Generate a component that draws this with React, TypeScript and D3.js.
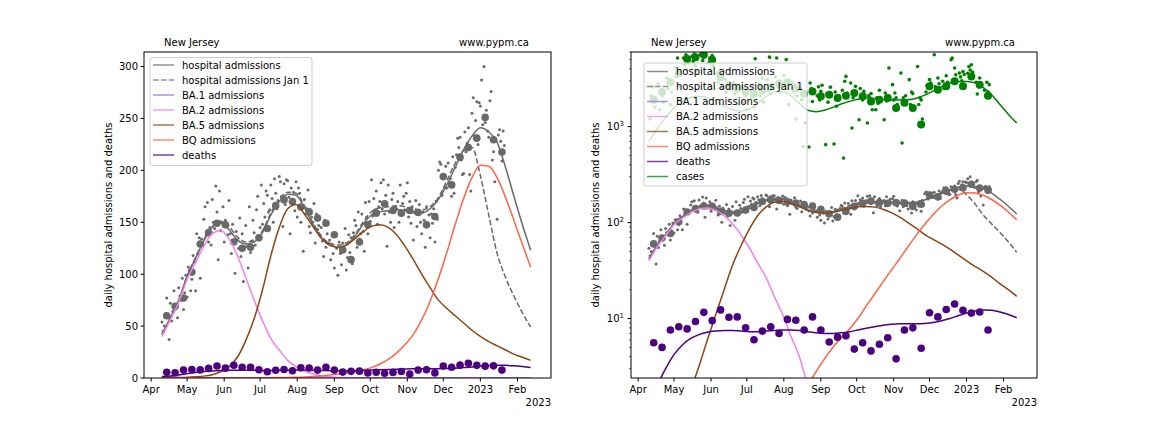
import * as d3 from "d3";

// model curves: weekly knots starting 2022-04-10
const MODEL_START = "2022-04-10";
const hospModel = [42, 58, 75, 98, 115, 132, 145, 149, 143, 133, 129, 131, 140, 157, 170, 177, 176, 164, 148, 135, 128, 126, 128, 136, 148, 157, 160, 161, 162, 161, 159, 159, 163, 172, 186, 203, 220, 233, 241, 237, 227, 203, 175, 148, 123];
const hospJan1 = [42, 58, 75, 98, 116, 133, 146, 151, 146, 136, 131, 133, 142, 159, 172, 179, 178, 166, 150, 137, 130, 128, 130, 138, 150, 160, 164, 165, 166, 165, 163, 162, 165, 174, 190, 207, 219, 222, 195, 157, 120, 97, 79, 63, 49];
const ba1Model = [1.5, 1.1, 0.8, 0.55, 0.4, 0.28, 0.2, 0.14, 0.1, 0.07, 0.05, 0.035, 0.025, 0.018, 0.013, 0.01, 0.007, 0.005, 0.004, 0.003, 0.002, 0.0015, 0.001, 0.001, 0.001, 0.001, 0.001, 0.001, 0.001, 0.001, 0.001, 0.001, 0.001, 0.001, 0.001, 0.001, 0.001, 0.001, 0.001, 0.001, 0.001, 0.001, 0.001, 0.001, 0.001];
const ba2Model = [40, 56, 73, 95, 111, 127, 139, 142, 134, 118, 97, 75, 55, 38, 27, 17, 11, 6.5, 4.0, 2.0, 1.1, 0.6, 0.35, 0.2, 0.12, 0.07, 0.04, 0.025, 0.015, 0.01, 0.006, 0.004, 0.003, 0.002, 0.0015, 0.001, 0.001, 0.001, 0.001, 0.001, 0.001, 0.001, 0.001, 0.001, 0.001];
const ba5Model = [0.08, 0.15, 0.3, 0.6, 1.1, 1.8, 3.2, 6, 11, 20, 36, 57, 85, 118, 145, 163, 167, 158, 146, 135, 128, 126, 128, 134, 141, 146, 147.5, 145, 138, 127, 114, 100, 87, 75, 67, 60, 53, 46, 40, 35, 31, 27, 23, 20, 17];
const bqModel = [0.02, 0.025, 0.03, 0.04, 0.05, 0.06, 0.08, 0.1, 0.12, 0.15, 0.18, 0.22, 0.27, 0.33, 0.4, 0.5, 0.7, 1.0, 1.4, 2.0, 2.8, 3.8, 5, 6.3, 7.8, 10, 13.5, 18, 24, 32, 42, 56, 74, 96, 121, 148, 173, 193, 205, 204, 193, 174, 152, 129, 107];
const deathsModel = [1.2, 2.0, 3.0, 4.2, 5.3, 6.2, 6.8, 7.2, 7.4, 7.5, 7.5, 7.4, 7.3, 7.3, 7.4, 7.5, 7.6, 7.6, 7.5, 7.3, 7.1, 7.0, 7.0, 7.1, 7.3, 7.6, 7.9, 8.2, 8.5, 8.7, 8.8, 8.8, 8.8, 8.9, 9.1, 9.5, 10.0, 10.7, 11.4, 12.0, 12.3, 12.2, 11.7, 11.0, 10.2];
const casesModel = [700, 950, 1250, 1570, 1850, 2030, 2080, 2000, 1830, 1640, 1500, 1450, 1530, 1750, 2050, 2300, 2330, 2100, 1750, 1480, 1430, 1480, 1590, 1720, 1835, 1930, 1990, 1970, 1910, 1890, 1900, 1910, 1980, 2130, 2350, 2600, 2850, 2960, 2950, 2860, 2550, 2150, 1700, 1350, 1090];

// daily hospital admissions from 2022-04-10, one row per week
const HOSP_START = "2022-04-10";
const hospDaily = [
  54, 45, 50, 62, 77, 58, 37,
  72, 55, 64, 84, 66, 70, 58,
  87, 79, 75, 96, 66, 82, 99,
  78, 107, 104, 84, 95, 118, 112,
  84, 139, 120, 135, 96, 134, 128,
  153, 165, 138, 169, 131, 145, 128,
  172, 150, 144, 185, 160, 114, 180,
  142, 150, 165, 131, 152, 147, 138,
  171, 139, 120, 148, 133, 101, 141,
  133, 125, 154, 117, 139, 93, 126,
  147, 127, 106, 165, 121, 132, 152,
  140, 128, 162, 175, 136, 145, 186,
  148, 168, 155, 180, 176, 160, 162,
  186, 173, 150, 192, 178, 163, 171,
  194, 189, 175, 146, 187, 167, 191,
  190, 174, 139, 183, 168, 179, 161,
  189, 155, 183, 178, 150, 166, 122,
  172, 158, 163, 181, 146, 140, 155,
  150, 168, 130, 158, 143, 147, 137,
  145, 132, 117, 152, 126, 139, 130,
  133, 114, 128, 120, 106, 137, 125,
  99, 131, 120, 109, 130, 123, 144,
  104, 116, 138, 121, 135, 110, 140,
  152, 147, 126, 160, 134, 139, 158,
  141, 122, 169, 155, 139, 170, 151,
  191, 156, 173, 162, 180, 148, 165,
  170, 188, 163, 191, 158, 176, 127,
  186, 160, 150, 172, 178, 145, 165,
  163, 170, 150, 186, 158, 168, 175,
  162, 178, 188, 155, 170, 149, 165,
  133, 160, 171, 146, 158, 167, 150,
  139, 160, 152, 126, 165, 148, 157,
  135, 158, 149, 163, 131, 170, 153,
  200, 208, 206, 176, 195, 183, 204,
  183, 207, 188, 192, 175, 213, 178,
  203, 215, 231, 222, 232, 210, 196,
  197, 237, 218, 226, 241, 196, 180,
  255, 270, 233, 248, 266, 225, 265,
  262, 287, 244, 300, 246, 258, 238,
  232, 267, 276, 210, 218, 189, 229,
  153, 234, 239, 228, 209, 238, 224,
];

// weekly averages, from 2022-04-14
const WEEKLY_START = "2022-04-14";
const hospWeekly = [60, 69, 77, 102, 129, 140, 149, 147.5, 131, 125, 126, 135, 144, 166, 171.6, 170, 164.6, 160, 154, 149, 138, 123.4, 114, 131, 147.5, 158.8, 167.8, 161.4, 158.8, 161.4, 159.4, 147.5, 155.5, 194, 186, 212.7, 222, 231, 251, 229.5, 217.6];
const deathsWeekly = [5.6, 5.0, 7.6, 8.2, 7.8, 9.3, 11.6, 9.5, 12.3, 10.3, 10.4, 8.0, 6.0, 7.4, 8.2, 7.0, 9.8, 9.6, 7.6, 10.4, 7.6, 5.7, 6.4, 6.6, 4.8, 5.6, 4.6, 5.4, 6.3, 3.8, 7.6, 8.0, 4.9, 11.5, 10.4, 12.4, 14.2, 12.2, 11.4, 11.7, 7.6];
const casesWeekly = [1910, 2300, 2900, 3600, 5070, 5300, 5620, 4990, 3300, 2700, 2500, 2300, 2200, 2400, 2600, 2800, 2900, 2500, 2200, 2330, 2070, 2150, 1990, 2100, 2240, 2070, 1830, 1910, 1990, 1565, 1770, 1565, 1050, 2630, 2430, 2630, 2970, 2630, 3340, 2740, 2100];

// daily cases, Mon..Fri, weeks from 2022-04-11
const CASES_START = "2022-04-11";
const casesDaily = [
  [1200, 2100, 2600, 1900, 1600],
  [2800, 1500, 2400, 2100, 1800],
  [3200, 2500, 2900, 1700, 2300],
  [4100, 3300, 5200, 3600, 2600],
  [5200, 4400, 5600, 3900, 4600],
  [5400, 4800, 5700, 4300, 3800],
  [5600, 5800, 4900, 5300, 5500],
  [4600, 5200, 3900, 5500, 4300],
  [3600, 2900, 3800, 3100, 2500],
  [3100, 2300, 2800, 1900, 2600],
  [2900, 2200, 2700, 1700, 2400],
  [2600, 1800, 2500, 2100, 1500],
  [2400, 2000, 2700, 1600, 5100],
  [2800, 2100, 2600, 3200, 1800],
  [3100, 2400, 5300, 2200, 2700],
  [3300, 5200, 2600, 3000, 2300],
  [3400, 2700, 5000, 2500, 1700],
  [2900, 2300, 2700, 1200, 2100],
  [2500, 1900, 620, 2300, 1100],
  [614, 2850, 2500, 1830, 2300],
  [2100, 2600, 1900, 2330, 2700],
  [650, 2200, 1800, 2150, 2580],
  [660, 2300, 1630, 2000, 2100],
  [2400, 470, 2970, 3340, 2240],
  [2850, 970, 2000, 2300, 2630],
  [1180, 2500, 2100, 1900, 2330],
  [1090, 2100, 2000, 2210, 1500],
  [1500, 2000, 1750, 2400, 1900],
  [1180, 2240, 1850, 2100, 4080],
  [2740, 1900, 2240, 2000, 1700],
  [3620, 676, 2000, 1800, 2100],
  [3090, 1700, 2300, 2210, 1600],
  [4240, 1700, 2000, 1900, 1200],
  [2300, 2700, 2500, 3090, 2850],
  [5620, 2600, 2400, 3210, 2800],
  [2970, 2500, 2700, 3390, 2900],
  [4990, 5190, 3100, 4080, 3480],
  [3620, 3300, 3000, 3760, 3500],
  [3600, 4240, 3900, 4420, 3700],
  [2900, 2190, 2600, 3210, 2800],
  [2400, 2100, 2900, 2300, 2740],
];

const monthTicks = ["2022-04-01", "2022-05-01", "2022-06-01", "2022-07-01", "2022-08-01", "2022-09-01", "2022-10-01", "2022-11-01", "2022-12-01", "2023-01-01", "2023-02-01"];

const C = {
  hosp: "#696969",
  ba1: "#9370DB",
  ba2: "#EE82EE",
  ba5: "#8B4513",
  bq: "#FF6347",
  deaths: "#4B0082",
  cases: "#008000",
};

const FONT = "DejaVu Sans, sans-serif";
const TOP = 52;
const BOTTOM = 378;

const utc = (s: string) => new Date(s + "T00:00:00Z");
const dayAfter = (s: string, n: number) => d3.utcDay.offset(utc(s), n);

type Pt = [Date, number];
const series = (start: string, step: number, vals: number[]): Pt[] =>
  vals.map((v, i) => [dayAfter(start, i * step), v]);

const modelPts = {
  hosp: series(MODEL_START, 7, hospModel),
  jan1: series(MODEL_START, 7, hospJan1),
  ba1: series(MODEL_START, 7, ba1Model),
  ba2: series(MODEL_START, 7, ba2Model),
  ba5: series(MODEL_START, 7, ba5Model),
  bq: series(MODEL_START, 7, bqModel),
  deaths: series(MODEL_START, 7, deathsModel),
  cases: series(MODEL_START, 7, casesModel),
};
const hospDailyPts = series(HOSP_START, 1, hospDaily);
const hospWeeklyPts = series(WEEKLY_START, 7, hospWeekly);
const deathsWeeklyPts = series(WEEKLY_START, 7, deathsWeekly);
const casesWeeklyPts = series(WEEKLY_START, 7, casesWeekly);
const casesDailyPts: Pt[] = casesDaily.flatMap((row, w) =>
  row.map((v, j) => [dayAfter(CASES_START, w * 7 + j), v] as Pt)
);

const xDomain = [utc("2022-03-26"), utc("2023-03-01")];

type PanelProps = { id: string; left: number; right: number; log: boolean };

function Panel({ id, left, right, log }: PanelProps) {
  const x = d3.scaleUtc().domain(xDomain).range([left, right]);
  const y = log
    ? d3.scaleLog().domain([2.4, 6000]).range([BOTTOM, TOP])
    : d3.scaleLinear().domain([0, 314]).range([BOTTOM, TOP]);
  const line = d3
    .line<Pt>()
    .x((d) => x(d[0]))
    .y((d) => y(d[1]))
    .curve(d3.curveMonotoneX);

  const yTicks = log ? [10, 100, 1000] : [0, 50, 100, 150, 200, 250, 300];
  const minor: number[] = [];
  if (log) {
    [1, 10, 100, 1000].forEach((dec) => {
      for (let m = 2; m <= 9; m++) {
        const v = m * dec;
        if (v >= 2.4 && v <= 6000) minor.push(v);
      }
    });
  }

  const legend = [
    { label: "hospital admissions", color: C.hosp, dash: false },
    { label: "hospital admissions Jan 1", color: C.hosp, dash: true },
    { label: "BA.1 admissions", color: C.ba1, dash: false },
    { label: "BA.2 admissions", color: C.ba2, dash: false },
    { label: "BA.5 admissions", color: C.ba5, dash: false },
    { label: "BQ admissions", color: C.bq, dash: false },
    { label: "deaths", color: C.deaths, dash: false },
    ...(log ? [{ label: "cases", color: C.cases, dash: false }] : []),
  ];
  const lg = log
    ? { x: left + 13, y: 63, w: 163, row0: 71.5 }
    : { x: left + 6, y: 57.5, w: 162, row0: 65 };
  const lgH = legend.length * 15 + 3;

  const modelLine = (pts: Pt[], color: string, dash = false) => (
    <path
      d={line(pts) ?? ""}
      fill="none"
      stroke={color}
      strokeWidth={1.5}
      strokeDasharray={dash ? "5.5,2.4" : undefined}
    />
  );

  return (
    <g fontFamily={FONT} fontSize={10}>
      <defs>
        <clipPath id={id}>
          <rect x={left} y={TOP} width={right - left} height={BOTTOM - TOP} />
        </clipPath>
      </defs>
      <g clipPath={`url(#${id})`}>
        {hospDailyPts.map((d, i) => (
          <circle key={"hd" + i} cx={x(d[0])} cy={y(d[1])} r={1.5} fill={C.hosp} />
        ))}
        {hospWeeklyPts.map((d, i) => (
          <circle key={"hw" + i} cx={x(d[0])} cy={y(d[1])} r={3.8} fill={C.hosp} />
        ))}
        {log &&
          casesDailyPts.map((d, i) => (
            <circle key={"cd" + i} cx={x(d[0])} cy={y(d[1])} r={1.8} fill={C.cases} />
          ))}
        {log &&
          casesWeeklyPts.map((d, i) => (
            <circle key={"cw" + i} cx={x(d[0])} cy={y(d[1])} r={4} fill={C.cases} />
          ))}
        {modelLine(modelPts.hosp, C.hosp)}
        {modelLine(modelPts.jan1, C.hosp, true)}
        {modelLine(modelPts.ba1, C.ba1)}
        {modelLine(modelPts.ba2, C.ba2)}
        {modelLine(modelPts.ba5, C.ba5)}
        {modelLine(modelPts.bq, C.bq)}
        {deathsWeeklyPts.map((d, i) => (
          <circle key={"dw" + i} cx={x(d[0])} cy={y(d[1])} r={3.8} fill={C.deaths} />
        ))}
        {modelLine(modelPts.deaths, C.deaths)}
        {log && modelLine(modelPts.cases, C.cases)}
      </g>

      <rect x={left} y={TOP} width={right - left} height={BOTTOM - TOP} fill="none" stroke="#000" strokeWidth={1} />

      {monthTicks.map((s) => {
        const d = utc(s);
        const px = x(d);
        const lab = d.getUTCMonth() === 0 ? String(d.getUTCFullYear()) : d3.utcFormat("%b")(d);
        return (
          <g key={s}>
            <line x1={px} x2={px} y1={BOTTOM} y2={BOTTOM + 3.5} stroke="#000" />
            <text x={px} y={BOTTOM + 15} textAnchor="middle" fill="#000">{lab}</text>
          </g>
        );
      })}
      <text x={right} y={BOTTOM + 28} textAnchor="end">2023</text>

      {yTicks.map((v) => (
        <g key={v}>
          <line x1={left - 3.5} x2={left} y1={y(v)} y2={y(v)} stroke="#000" />
          {log ? (
            <text x={left - 7} y={y(v) + 3.5} textAnchor="end">
              10
              <tspan dy={-4} fontSize={7}>{String(Math.round(Math.log10(v)))}</tspan>
            </text>
          ) : (
            <text x={left - 6} y={y(v) + 3.5} textAnchor="end">{v}</text>
          )}
        </g>
      ))}
      {minor.map((v) => (
        <line key={"m" + v} x1={left - 2} x2={left} y1={y(v)} y2={y(v)} stroke="#000" strokeWidth={0.6} />
      ))}

      <text
        transform={`translate(${left - 36},${(TOP + BOTTOM) / 2}) rotate(-90)`}
        textAnchor="middle"
        dy={3.5}
      >
        daily hospital admissions and deaths
      </text>

      <text x={left + 20} y={46}>New Jersey</text>
      <text x={right - 22} y={46} textAnchor="end">www.pypm.ca</text>

      <g>
        <rect x={lg.x} y={lg.y} width={lg.w} height={lgH} rx={2.5} fill="#fff" fillOpacity={0.8} stroke="#cccccc" strokeWidth={1} />
        {legend.map((e, i) => {
          const ry = lg.row0 + i * 15;
          return (
            <g key={e.label}>
              <line
                x1={lg.x + 3}
                x2={lg.x + 24}
                y1={ry}
                y2={ry}
                stroke={e.color}
                strokeOpacity={0.75}
                strokeWidth={1.5}
                strokeDasharray={e.dash ? "5.5,2.4" : undefined}
              />
              <text x={lg.x + 32} y={ry + 3.5}>{e.label}</text>
            </g>
          );
        })}
      </g>
    </g>
  );
}

export default function App() {
  return (
    <svg
      width={1152}
      height={432}
      style={{ position: "absolute", left: 0, top: 0, background: "#fff" }}
    >
      <Panel id="clipL" left={144} right={551} log={false} />
      <Panel id="clipR" left={631} right={1037} log={true} />
    </svg>
  );
}
